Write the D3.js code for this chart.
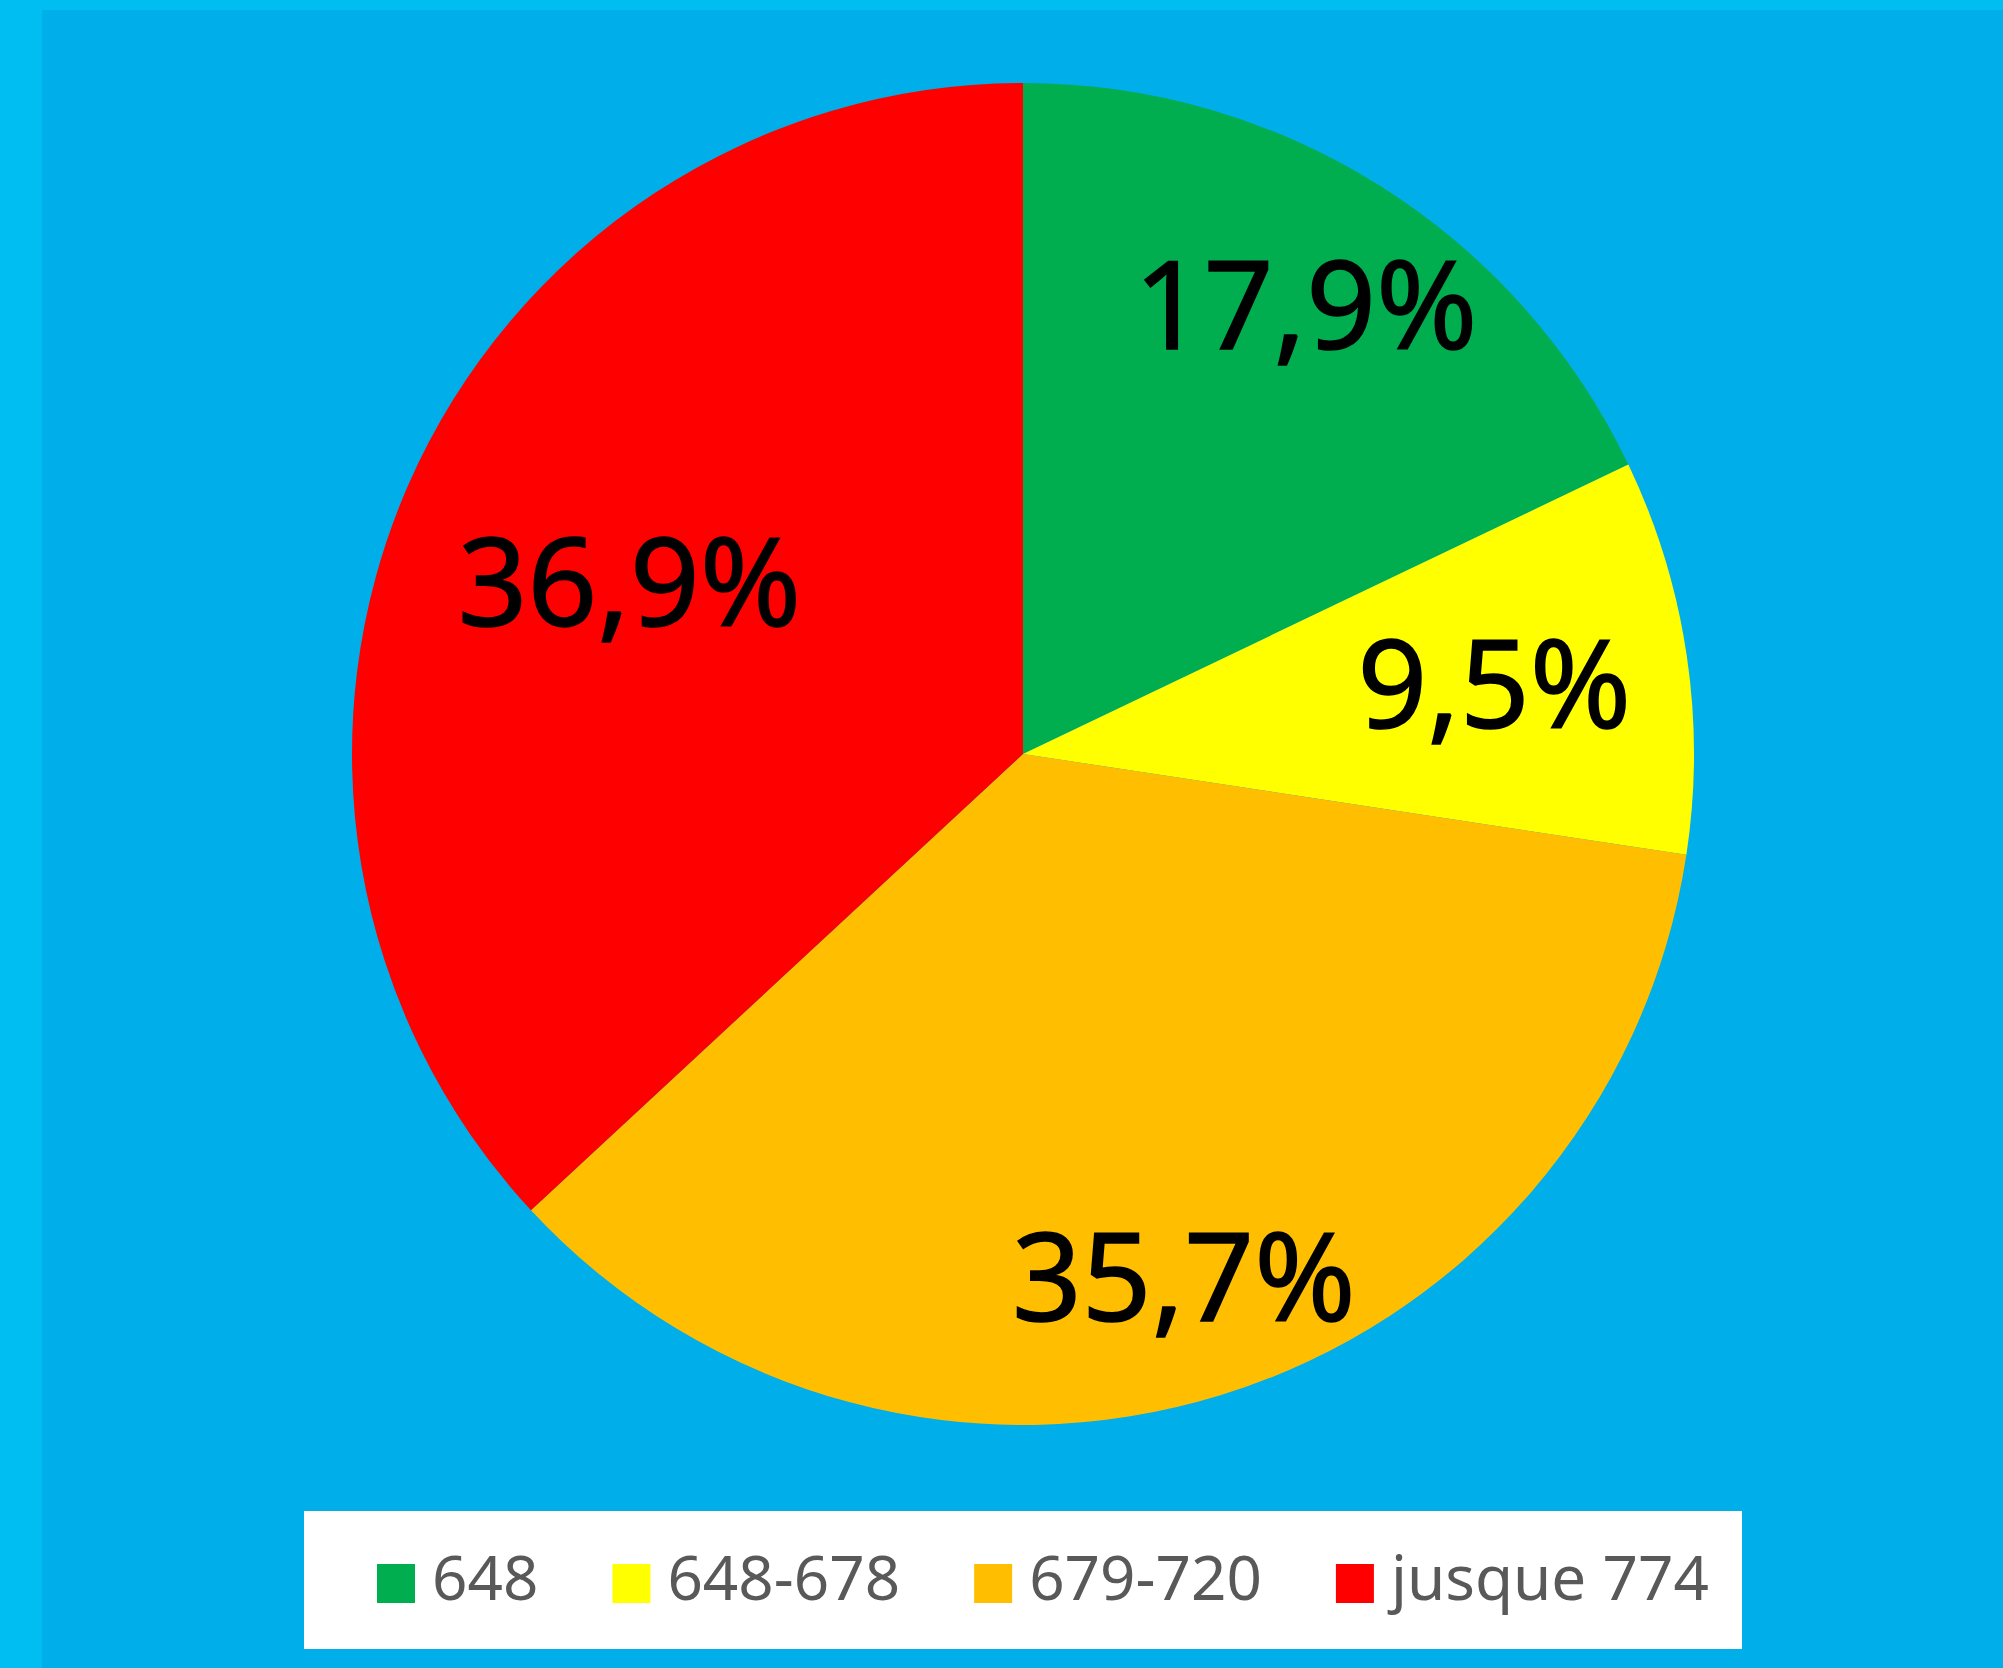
<!DOCTYPE html>
<html>
<head>
<meta charset="utf-8">
<script src="https://cdn.jsdelivr.net/npm/d3@7"></script>
<style>
  html, body { margin: 0; padding: 0; background: #00bef2; }
  svg { display: block; }
</style>
</head>
<body>
<div id="chart"></div>
<script>
// data
const categories = ["648", "648-678", "679-720", "jusque 774"];
const shares = [17.9, 9.5, 35.7, 36.9];
const colors = ["#00ad4f", "#ffff00", "#ffbf00", "#ff0000"];

// where each percentage sits, as a share of the radius (Excel best fit)
const labelRadius = [0.79, 0.71, 0.815, 0.64];

const width = 2003;
const height = 1668;
const cx = 1023, cy = 754, radius = 671;

const svg = d3.select('#chart')
  .append('svg')
  .attr('width', width)
  .attr('height', height);

// outer frame and plot area
svg.append('rect')
  .attr('width', width).attr('height', height)
  .attr('fill', '#00bef2');
svg.append('rect')
  .attr('x', 42).attr('y', 10)
  .attr('width', width - 42).attr('height', height - 10)
  .attr('fill', '#00aeea');

const pie = d3.pie().sort(null).value(d => d);
const arcs = pie(shares);

const arc = d3.arc().innerRadius(0).outerRadius(radius);

const g = svg.append('g')
  .attr('transform', 'translate(' + cx + ',' + cy + ')');

g.selectAll('path.slice')
  .data(arcs)
  .enter().append('path')
  .attr('class', 'slice')
  .attr('d', arc)
  .attr('fill', (d, i) => colors[i]);

const fmt = v => d3.format('.1f')(v).replace('.', ',') + '%';

g.selectAll('text.pct')
  .data(arcs)
  .enter().append('text')
  .attr('class', 'pct')
  .attr('transform', (d, i) => {
    const r = radius * labelRadius[i];
    const c = d3.arc().innerRadius(r).outerRadius(r).centroid(d);
    return 'translate(' + c + ')';
  })
  .attr('text-anchor', 'middle')
  .attr('dy', '0.36em')
  .style('font-family', '"Noto Sans", "Open Sans", sans-serif')
  .style('font-size', '122px')
  .style('fill', '#000')
  .style('stroke', '#000')
  .style('stroke-width', '1.5px')
  .text(d => fmt(d.data));

// legend
const legend = svg.append('g');
legend.append('rect')
  .attr('x', 304).attr('y', 1511)
  .attr('width', 1438).attr('height', 138)
  .attr('fill', '#ffffff');

const items = legend.selectAll('g.item')
  .data(categories)
  .enter().append('g')
  .attr('class', 'item');

items.append('rect')
  .attr('width', 38).attr('height', 39)
  .attr('y', 1564)
  .attr('fill', (d, i) => colors[i]);

items.append('text')
  .attr('y', 1600)
  .style('font-family', '"Noto Sans", "Open Sans", sans-serif')
  .style('font-size', '62px')
  .style('fill', '#595959')
  .text(d => d);

let x = 377;
items.each(function() {
  const item = d3.select(this);
  item.select('rect').attr('x', x);
  item.select('text').attr('x', x + 55);
  const w = item.select('text').node().getComputedTextLength();
  x += 55 + w + 74;
});
</script>
</body>
</html>
